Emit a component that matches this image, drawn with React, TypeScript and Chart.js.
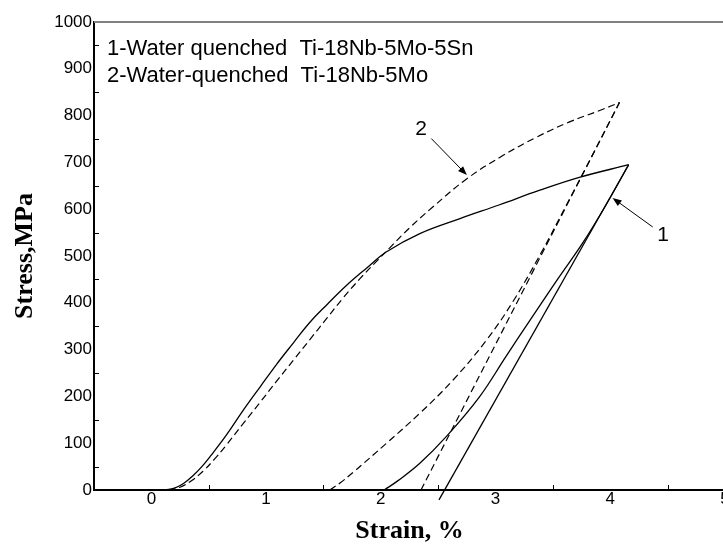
import React, { useEffect, useRef } from "react";
import { Chart, registerables } from "chart.js";

Chart.register(...registerables);

// ---- data (strain %, stress MPa) ----
const xTickValues = [0, 1, 2, 3, 4, 5];
const yTickValues = [0, 100, 200, 300, 400, 500, 600, 700, 800, 900, 1000];
const xMinorTicks = [0.5, 1.5, 2.5, 3.5, 4.5];
const yMinorTicks = [50, 150, 250, 350, 450, 550, 650, 750, 850, 950];

// Curve 1 (solid): Ti-18Nb-5Mo-5Sn
const s1LoadStrain = [0.12, 0.2, 0.28, 0.36, 0.44, 0.52, 0.65, 0.8, 0.95, 1.09, 1.24, 1.38, 1.53, 1.7, 1.88, 2.05, 2.34, 2.69, 3.03, 3.38, 3.73, 4.16];
const s1LoadStress = [0, 4, 14, 30, 50, 74, 116, 170, 221, 268, 315, 358, 396, 437, 475, 509, 548, 580, 609, 640, 668, 695];
const s1UnloadStrain = [2.03, 2.15, 2.34, 2.57, 2.86, 3.09, 3.32, 3.54, 3.76, 3.96, 4.16];
const s1UnloadStress = [0, 20, 57, 114, 199, 285, 370, 450, 528, 608, 695];
const s1LineStrain = [2.507, 4.16];
const s1LineStress = [-21, 695];

// Curve 2 (dashed): Ti-18Nb-5Mo
const s2LoadStrain = [0.15, 0.25, 0.35, 0.45, 0.55, 0.65, 0.8, 0.95, 1.09, 1.24, 1.38, 1.53, 1.67, 1.82, 1.96, 2.08, 2.25, 2.45, 2.75, 3.06, 3.35, 3.64, 3.93, 4.08];
const s2LoadStress = [0, 6, 20, 40, 66, 95, 142, 188, 232, 278, 321, 367, 410, 452, 488, 518, 560, 604, 665, 714, 753, 786, 813, 828];
const s2UnloadStrain = [1.556, 1.65, 1.76, 2.05, 2.34, 2.63, 2.92, 3.15, 3.4, 3.62, 3.85, 4.08];
const s2UnloadStress = [0, 16, 38, 100, 164, 235, 320, 402, 508, 610, 718, 828];
const s2LineStrain = [2.35, 4.08];
const s2LineStress = [0, 828];

// Legend texts
const legendLines = ["1-Water quenched  Ti-18Nb-5Mo-5Sn", "2-Water-quenched  Ti-18Nb-5Mo"];

// Annotations: label, label position, arrow tail and tip (data units)
const annotLabels = ["1", "2"];
const annotLabelStrain = [4.46, 2.35];
const annotLabelStress = [545, 771];
const annotTailStrain = [4.37, 2.44];
const annotTailStress = [562, 751];
const annotTipStrain = [4.02, 2.75];
const annotTipStress = [624, 673];

const xTitle = "Strain, %";
const yTitle = "Stress,MPa";

const pts = (xs: number[], ys: number[]) => xs.map((x, i) => ({ x, y: ys[i] }));

const overlayPlugin = {
  id: "overlay",
  afterDatasetsDraw(chart: any) {
    const { ctx, chartArea, scales } = chart;
    const xs = scales.x;
    const ys = scales.y;
    ctx.save();
    // top frame line
    ctx.strokeStyle = "#808080";
    ctx.lineWidth = 2;
    ctx.beginPath();
    ctx.moveTo(chartArea.left, chartArea.top);
    ctx.lineTo(chartArea.right, chartArea.top);
    ctx.stroke();

    // minor ticks (inside)
    ctx.strokeStyle = "#000";
    ctx.lineWidth = 1;
    ctx.beginPath();
    yMinorTicks.forEach((v) => {
      const y = Math.round(ys.getPixelForValue(v)) + 0.5;
      ctx.moveTo(chartArea.left, y);
      ctx.lineTo(chartArea.left + 5, y);
    });
    xMinorTicks.forEach((v) => {
      const x = Math.round(xs.getPixelForValue(v)) + 0.5;
      ctx.moveTo(x, chartArea.bottom);
      ctx.lineTo(x, chartArea.bottom - 5);
    });
    ctx.stroke();

    // legend text
    ctx.fillStyle = "#000";
    ctx.font = '22px "Liberation Sans", Arial, sans-serif';
    ctx.textAlign = "left";
    ctx.textBaseline = "alphabetic";
    legendLines.forEach((t, i) => {
      ctx.fillText(t, chartArea.left + 13, chartArea.top + 33 + i * 27);
    });

    // annotations
    annotLabels.forEach((lab, i) => {
      const lx = xs.getPixelForValue(annotLabelStrain[i]);
      const ly = ys.getPixelForValue(annotLabelStress[i]);
      ctx.textAlign = "center";
      ctx.textBaseline = "middle";
      ctx.font = '21px "Liberation Sans", Arial, sans-serif';
      ctx.fillText(lab, lx, ly);
      const tx = xs.getPixelForValue(annotTailStrain[i]);
      const ty = ys.getPixelForValue(annotTailStress[i]);
      const px = xs.getPixelForValue(annotTipStrain[i]);
      const py = ys.getPixelForValue(annotTipStress[i]);
      const ang = Math.atan2(py - ty, px - tx);
      const headLen = 9;
      const headW = 3.5;
      ctx.lineWidth = 1;
      ctx.beginPath();
      ctx.moveTo(tx, ty);
      ctx.lineTo(px - Math.cos(ang) * headLen * 0.8, py - Math.sin(ang) * headLen * 0.8);
      ctx.stroke();
      ctx.beginPath();
      ctx.moveTo(px, py);
      const bx = px - Math.cos(ang) * headLen;
      const by = py - Math.sin(ang) * headLen;
      ctx.lineTo(bx + Math.sin(ang) * headW, by - Math.cos(ang) * headW);
      ctx.lineTo(bx - Math.sin(ang) * headW, by + Math.cos(ang) * headW);
      ctx.closePath();
      ctx.fill();
    });
    ctx.restore();
  },
};

export default function App() {
  const canvasRef = useRef<HTMLCanvasElement | null>(null);

  useEffect(() => {
    if (!canvasRef.current) return;
    const solid = { borderColor: "#000", borderWidth: 1.3, pointRadius: 0, fill: false, tension: 0.4 };
    const dashed = { ...solid, borderWidth: 1.2, borderDash: [7, 4] };
    const chart = new Chart(canvasRef.current, {
      type: "line",
      data: {
        datasets: [
          { ...solid, data: pts(s1LoadStrain, s1LoadStress) },
          { ...solid, data: pts(s1UnloadStrain, s1UnloadStress) },
          { ...solid, tension: 0, data: pts(s1LineStrain, s1LineStress), clip: false as any },
          { ...dashed, data: pts(s2LoadStrain, s2LoadStress) },
          { ...dashed, data: pts(s2UnloadStrain, s2UnloadStress) },
          { ...dashed, tension: 0, data: pts(s2LineStrain, s2LineStress) },
        ] as any,
      },
      options: {
        animation: false,
        responsive: false,
        devicePixelRatio: 1,
        layout: { padding: { top: 22, right: 10, left: 0, bottom: 0 } },
        plugins: { legend: { display: false }, tooltip: { enabled: false } },
        scales: {
          x: {
            type: "linear",
            min: -0.5,
            max: 5,
            afterBuildTicks: (scale: any) => {
              scale.ticks = xTickValues.map((v) => ({ value: v }));
            },
            afterFit: (scale: any) => {
              scale.height = 57;
            },
            grid: { display: false, drawTicks: false, drawOnChartArea: false },
            border: { display: true, color: "#000", width: 2 },
            ticks: {
              autoSkip: false,
              maxRotation: 0,
              padding: 1,
              color: "#000",
              callback: (v: any) => String(v),
              font: { family: '"Liberation Sans", Arial, sans-serif', size: 17, lineHeight: 1 },
            },
            title: {
              display: true,
              text: xTitle,
              color: "#000",
              padding: { top: 0, bottom: 0 },
              font: { family: '"Liberation Serif", "Times New Roman", serif', size: 26, weight: "bold", lineHeight: 1.2 },
            },
          },
          y: {
            type: "linear",
            min: 0,
            max: 1000,
            afterBuildTicks: (scale: any) => {
              scale.ticks = yTickValues.map((v) => ({ value: v }));
            },
            afterFit: (scale: any) => {
              scale.width = 94;
            },
            grid: { display: false, drawTicks: false, drawOnChartArea: false },
            border: { display: true, color: "#000", width: 2 },
            ticks: {
              autoSkip: false,
              padding: 2,
              color: "#000",
              callback: (v: any) => String(v),
              font: { family: '"Liberation Sans", Arial, sans-serif', size: 17, lineHeight: 1 },
            },
            title: {
              display: true,
              text: yTitle,
              color: "#000",
              padding: { top: 10, bottom: 0 },
              font: { family: '"Liberation Serif", "Times New Roman", serif', size: 26, weight: "bold", lineHeight: 1.2 },
            },
          },
        },
      } as any,
      plugins: [overlayPlugin],
    });
    return () => chart.destroy();
  }, []);

  return (
    <div style={{ position: "fixed", left: 0, top: 0, width: 723, height: 547, overflow: "hidden", background: "#fff" }}>
      <canvas ref={canvasRef} width={735} height={547} style={{ display: "block", width: 735, height: 547 }} />
    </div>
  );
}
